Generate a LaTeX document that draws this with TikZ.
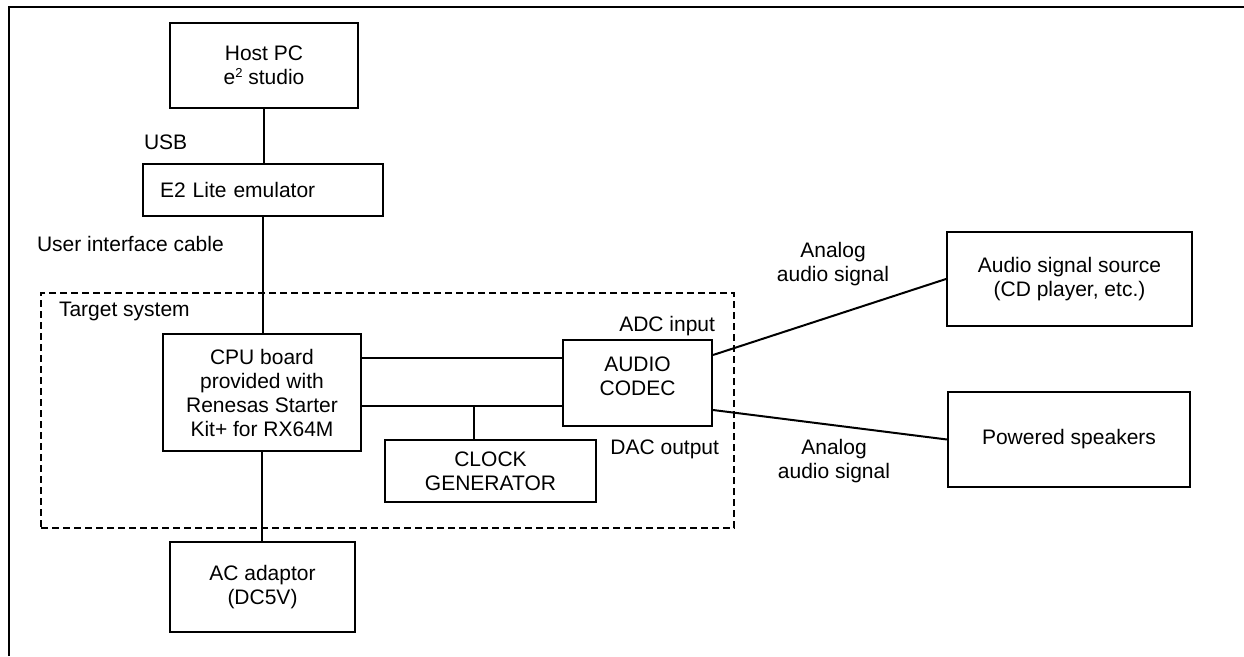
\documentclass[tikz,border=0pt]{standalone}
\usepackage{fontspec}
\setmainfont{Liberation Sans}
\begin{document}
\begin{tikzpicture}[x=1pt,y=-1pt,line width=2pt,
  every node/.style={font=\fontsize{21}{24}\selectfont},
  box/.style={draw,rectangle,align=center,inner sep=0pt},
  lbl/.style={inner sep=0pt},
  region/.style={draw,rectangle,line width=1.7pt,dash pattern=on 7pt off 4pt,inner sep=0pt}]
\useasboundingbox (0,0) rectangle (1244,656);
% outer frame (top and left edges)
\draw[line width=2.2pt] (9,656) -- (9,7) -- (1244,7);
% target system region
\node[region,minimum width=693pt,minimum height=235pt] (target) at (387.5,410.5) {};
% boxes
\node[box,minimum width=188pt,minimum height=85pt] (host) at (264,65.5) {Host PC\\e\raisebox{7pt}{\fontsize{13}{13}\selectfont 2} studio};
\node[box,text width=206pt,inner xsep=17pt,minimum height=52pt,align=left] (e2) at (263,190) {E2 Lite emulator};
\node[box,minimum width=198pt,minimum height=117pt] (cpu) at (262,392.5) {CPU board\\provided with\\Renesas Starter\\Kit+ for RX64M};
\node[box,minimum width=149pt,minimum height=86pt] (codec) at (637.5,383) {};
\node[lbl,align=center] (codectext) at ([yshift=7pt]codec.center) {AUDIO\\CODEC};
\node[box,minimum width=211pt,minimum height=62pt] (clock) at (490.5,471) {CLOCK\\GENERATOR};
\node[box,minimum width=185pt,minimum height=90pt] (ac) at (262.5,587) {AC adaptor\\(DC5V)};
\node[box,minimum width=245pt,minimum height=94pt] (src) at (1069.5,279) {Audio signal source\\(CD player, etc.)};
\node[box,minimum width=242pt,minimum height=95pt] (spk) at (1069,439.5) {Powered speakers};
% labels
\node[lbl,anchor=base west] (usb) at (143,149) {USB};
\node[lbl,anchor=base west] (uic) at (36,251) {User interface cable};
\node[lbl,anchor=base west] (tsl) at (58,316) {Target system};
\node[lbl,anchor=base east] (adc) at (716,331) {ADC input};
\node[lbl,anchor=base east] (dac) at (720,454) {DAC output};
\node[lbl,align=center] (sig1) at (833,264.5) {Analog\\audio signal};
\node[lbl,align=center] (sig2) at (834,461.5) {Analog\\audio signal};
% connectors
\draw (host.south) -- (host.south |- e2.north);
\draw (e2.south) -- (e2.south |- cpu.north);
\draw (cpu.south) -- (cpu.south |- ac.north);
\coordinate (t1) at ([yshift=34.5pt]cpu.east);
\coordinate (t2) at ([yshift=-13.5pt]cpu.east);
\draw (t1) -- (t1 -| codec.west);
\draw (t2) -- (t2 -| codec.west);
\coordinate (ck) at ([xshift=-16.5pt]clock.north);
\draw (ck) -- (ck |- t2);
\draw ([yshift=28pt]codec.east) -- (src.west);
\draw ([yshift=-27pt]codec.east) -- (spk.west);
\end{tikzpicture}
\end{document}
